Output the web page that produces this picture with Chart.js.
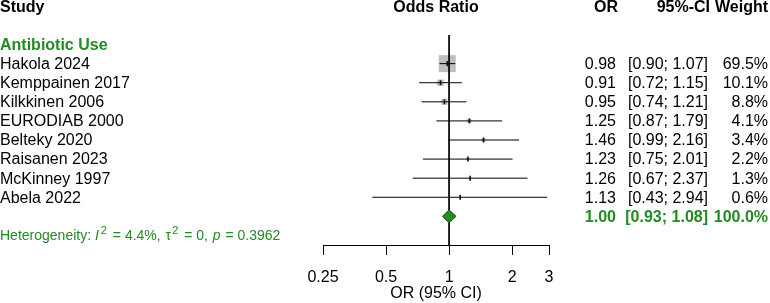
<!DOCTYPE html>
<html><head><meta charset="utf-8">
<script src="https://cdn.jsdelivr.net/npm/chart.js@4/dist/chart.umd.min.js"></script>
<style>html,body{margin:0;padding:0;background:#fff}canvas{display:block}</style>
</head><body>
<div style="width:770px;height:303px"><canvas id="c" width="770" height="303"></canvas></div>
<script>
// ---- data ----
const groupLabel = 'Antibiotic Use';
const studies = ['Hakola 2024','Kemppainen 2017','Kilkkinen 2006','EURODIAB 2000','Belteky 2020','Raisanen 2023','McKinney 1997','Abela 2022'];
const oddsRatio = [0.98, 0.91, 0.95, 1.25, 1.46, 1.23, 1.26, 1.13];
const ciLower  = [0.90, 0.72, 0.74, 0.87, 0.99, 0.75, 0.67, 0.43];
const ciUpper  = [1.07, 1.15, 1.21, 1.79, 2.16, 2.01, 2.37, 2.94];
const weights  = [69.5, 10.1, 8.8, 4.1, 3.4, 2.2, 1.3, 0.6];
const pooledOR = [1.00];
const pooledLower = [0.93];
const pooledUpper = [1.08];
const pooledWeight = [100.0];
const hetI2 = [4.4];
const hetTau2 = [0];
const hetP = [0.3962];
const headers = ['Study','Odds Ratio','OR','95%-CI','Weight'];
const xTicks = [0.25, 0.5, 1, 2, 3];
const xTitle = 'OR (95% CI)';

// ---- styling ----
const GREEN = '#228B22';
const FONT = '"Liberation Sans", Arial, Helvetica, sans-serif';
const rowHeader = -2, rowGroup = 0, rowSummary = studies.length + 1, rowHet = studies.length + 2;
const maxW = Math.max(...weights);

const datasets = [];
// estimate tick marks
datasets.push({
  type: 'scatter', order: 0,
  data: oddsRatio.map((v, i) => ({x: v, y: i + 1})),
  pointStyle: 'line', rotation: 90, pointRadius: 2.5, borderWidth: 1.6,
  borderColor: '#111', backgroundColor: '#111'
});
// CI lines
studies.forEach((s, i) => {
  datasets.push({
    type: 'line', order: 1,
    data: [{x: ciLower[i], y: i + 1}, {x: ciUpper[i], y: i + 1}],
    borderColor: '#000', borderWidth: 1, pointRadius: 0, fill: false
  });
});
// diamond
const dh = 0.34;
datasets.push({
  type: 'line', order: 2,
  data: [
    {x: pooledLower[0], y: rowSummary},
    {x: pooledOR[0], y: rowSummary - dh},
    {x: pooledUpper[0], y: rowSummary},
    {x: pooledOR[0], y: rowSummary + dh},
    {x: pooledLower[0], y: rowSummary}
  ],
  borderColor: '#1f4f1f', borderWidth: 1, backgroundColor: GREEN,
  fill: 'shape', pointRadius: 0, tension: 0
});
// reference line at 1
datasets.push({
  type: 'line', order: 3,
  data: [{x: 1, y: -0.5}, {x: 1, y: 10.5}],
  borderColor: '#000', borderWidth: 1, pointRadius: 0
});
// squares
datasets.push({
  type: 'scatter', order: 5,
  data: oddsRatio.map((v, i) => ({x: v, y: i + 1})),
  pointStyle: 'rect', borderWidth: 0,
  pointRadius: weights.map(w => 12 * Math.sqrt(w / maxW)),
  backgroundColor: '#bebebe', borderColor: '#bebebe'
});

const textPlugin = {
  id: 'forestText',
  afterDraw(chart) {
    const {ctx, scales: {y}} = chart;
    const Y = v => y.getPixelForValue(v) + 1;
    const reg = '16px ' + FONT, bold = 'bold 16px ' + FONT;
    ctx.save();
    ctx.textBaseline = 'middle';
    const t = (s, x, yy, align, font, color) => {
      ctx.font = font; ctx.textAlign = align; ctx.fillStyle = color; ctx.fillText(s, x, yy);
    };
    // headers
    t(headers[0], 0, Y(rowHeader), 'left', bold, '#000');
    t(headers[1], (chart.chartArea.left + chart.chartArea.right) / 2, Y(rowHeader), 'center', bold, '#000');
    t(headers[2], 618, Y(rowHeader), 'right', bold, '#000');
    t(headers[3], 710, Y(rowHeader), 'right', bold, '#000');
    t(headers[4], 768, Y(rowHeader), 'right', bold, '#000');
    // group
    t(groupLabel, 0, Y(rowGroup), 'left', bold, GREEN);
    // studies
    studies.forEach((s, i) => {
      const yy = Y(i + 1);
      t(s, 0, yy, 'left', reg, '#000');
      t(oddsRatio[i].toFixed(2), 616, yy, 'right', reg, '#000');
      t('[' + ciLower[i].toFixed(2) + '; ' + ciUpper[i].toFixed(2) + ']', 708, yy, 'right', reg, '#000');
      t(weights[i].toFixed(1) + '%', 768, yy, 'right', reg, '#000');
    });
    // summary
    const ys = Y(rowSummary);
    t(pooledOR[0].toFixed(2), 616, ys, 'right', bold, GREEN);
    t('[' + pooledLower[0].toFixed(2) + '; ' + pooledUpper[0].toFixed(2) + ']', 708, ys, 'right', bold, GREEN);
    t(pooledWeight[0].toFixed(1) + '%', 768, ys, 'right', bold, GREEN);
    // heterogeneity
    const yh = Y(rowHet);
    const n14 = '14px ' + FONT, i14 = 'italic 14px ' + FONT, s11 = '11px ' + FONT;
    const parts = [
      ['Heterogeneity: ', n14, 0, 0], ['I', i14, 0, 2], ['2', s11, -5, 2],
      [' = ' + hetI2[0].toFixed(1) + '%, ', n14, 0, 1], ['\u03C4', n14, 0, 1], ['2', s11, -5, 2],
      [' = ' + hetTau2[0] + ', ', n14, 0, 1], ['p', i14, 0, 1], [' = ' + hetP[0].toFixed(4), n14, 0, 0]
    ];
    let x = 0;
    ctx.textAlign = 'left'; ctx.fillStyle = GREEN;
    for (const [s, f, dy, gap] of parts) {
      ctx.font = f; ctx.fillText(s, x, yh + dy); x += ctx.measureText(s).width + gap;
    }
    ctx.restore();
  }
};

new Chart(document.getElementById('c'), {
  type: 'scatter',
  data: {datasets},
  options: {
    responsive: false, animation: false,
    layout: {padding: {left: 323, right: 221, top: 35, bottom: 0}},
    plugins: {legend: {display: false}, tooltip: {enabled: false}},
    scales: {
      x: {
        type: 'logarithmic', min: 0.25, max: 3,
        afterBuildTicks: s => { s.ticks = xTicks.map(v => ({value: v})); },
        afterFit: s => { s.height = 58; },
        grid: {display: true, drawOnChartArea: false, drawTicks: true, tickLength: 10, color: '#000', lineWidth: 1},
        border: {display: true, color: '#000', width: 1},
        ticks: {autoSkip: false, maxRotation: 0, padding: 13, color: '#000', font: {family: FONT, size: 16},
                callback: v => String(v)},
        title: {display: true, text: xTitle, color: '#000', font: {family: FONT, size: 16}, padding: {top: 0, bottom: 0}}
      },
      y: {type: 'linear', reverse: true, min: -0.5, max: 10.5, display: false}
    }
  },
  plugins: [textPlugin]
});
</script>
</body></html>
